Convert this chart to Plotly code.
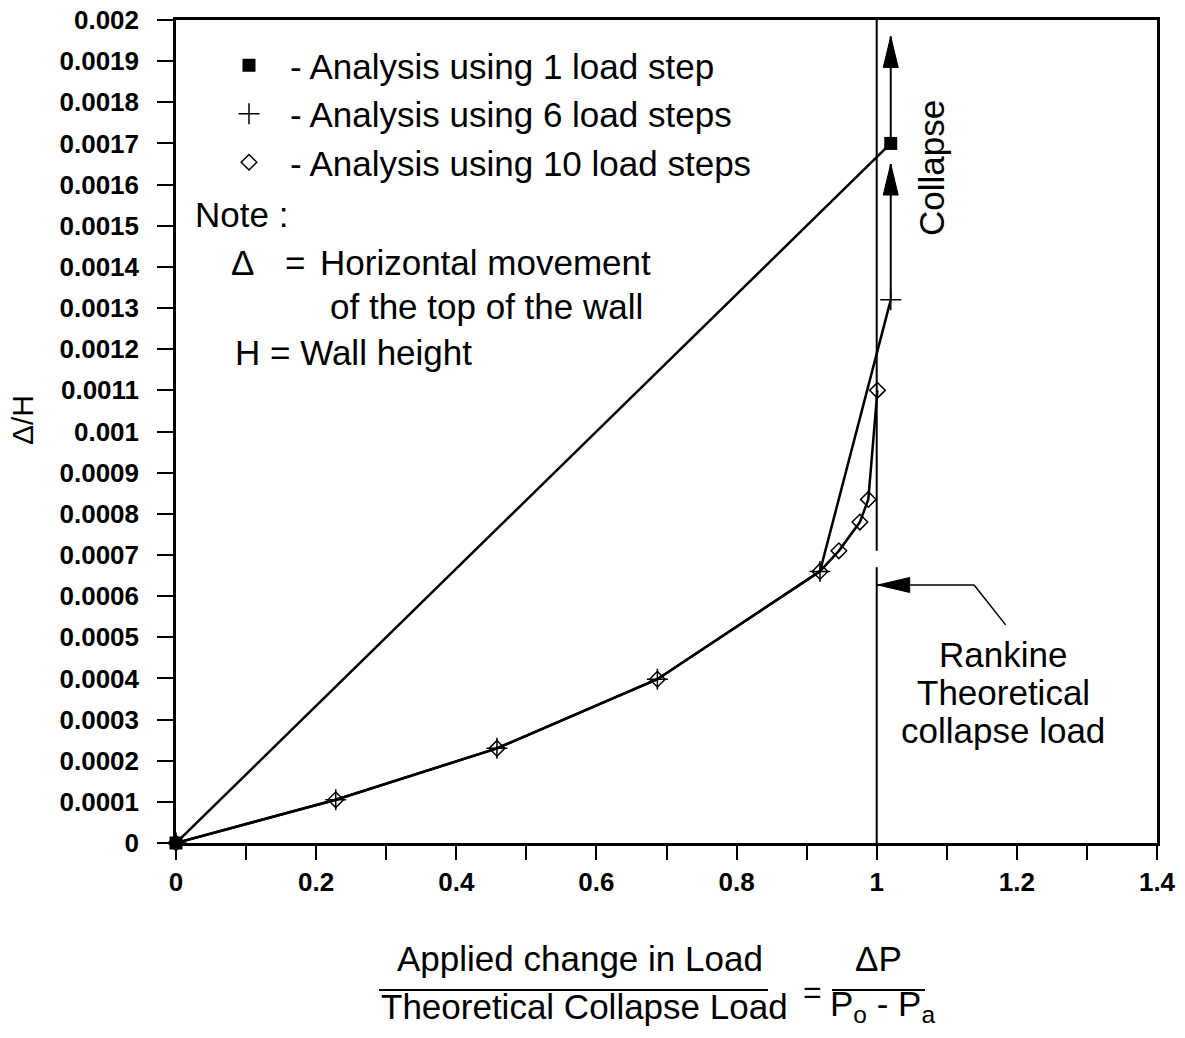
import plotly.graph_objects as go

# ---------------- data ----------------
x_1step = [0, 1.02]
y_1step = [0, 0.0017]

x_6step = [0, 0.228, 0.458, 0.687, 0.919, 1.02]
y_6step = [0, 0.000105, 0.00023, 0.000398, 0.00066, 0.00132]

x_10step = [0, 0.228, 0.458, 0.687, 0.919, 0.946, 0.976, 0.988, 1.001]
y_10step = [0, 0.000105, 0.00023, 0.000398, 0.00066, 0.00071, 0.00078, 0.000835, 0.0011]

series_names = ["- Analysis using 1 load step",
                "- Analysis using 6 load steps",
                "- Analysis using 10 load steps"]

x_tick_vals = [0, 0.2, 0.4, 0.6, 0.8, 1.0, 1.2, 1.4]
x_tick_text = ["0", "0.2", "0.4", "0.6", "0.8", "1", "1.2", "1.4"]
y_tick_vals = [i / 10000 for i in range(0, 21)]
y_tick_text = ["0", "0.0001", "0.0002", "0.0003", "0.0004", "0.0005", "0.0006",
               "0.0007", "0.0008", "0.0009", "0.001", "0.0011", "0.0012", "0.0013",
               "0.0014", "0.0015", "0.0016", "0.0017", "0.0018", "0.0019", "0.002"]

# Rankine theoretical collapse line (x = 1) drawn in two segments (gap around pointer)
rankine_x = 1.0
rankine_segments = [(0, 0.00067), (0.00071, 0.002)]
rankine_pointer_x = [1.0, 1.139, 1.184]
rankine_pointer_y = [0.000627, 0.000627, 0.00053]

# collapse arrows: (x, y_start, y_tip)
collapse_arrows = [(1.02, 0.00132, 0.00165), (1.02, 0.0017, 0.00196)]

# ---------------- layout geometry ----------------
W, H = 1185, 1038
ML, MR, MT, MB = 176, 28, 20, 195
PW, PH = W - ML - MR, H - MT - MB

def px(x):
    return (x - ML) / PW

def py(y):
    return (H - MB - y) / PH

FONT = "Liberation Sans, Arial, Helvetica, sans-serif"
TXT = 35

fig = go.Figure()

line_style = dict(color="black", width=2.5)
fig.add_trace(go.Scatter(x=x_1step, y=y_1step, mode="lines+markers", line=line_style,
                         marker=dict(symbol="square", size=13, color="black"),
                         cliponaxis=False, showlegend=False))
fig.add_trace(go.Scatter(x=x_6step, y=y_6step, mode="lines+markers", line=line_style,
                         marker=dict(symbol="cross-thin", size=15,
                                     line=dict(color="black", width=1.5)),
                         cliponaxis=False, showlegend=False))
fig.add_trace(go.Scatter(x=x_10step, y=y_10step, mode="lines+markers", line=line_style,
                         marker=dict(symbol="diamond-open", size=12, color="black",
                                     line=dict(color="black", width=1.5)),
                         cliponaxis=False, showlegend=False))

# legend-only entries (marker symbols only)
legend_markers = [dict(symbol="square", size=13, color="black"),
                  dict(symbol="cross-thin", size=15, line=dict(color="black", width=1.5)),
                  dict(symbol="diamond-open", size=12, color="black",
                       line=dict(color="black", width=1.5))]
for name, mk in zip(series_names, legend_markers):
    fig.add_trace(go.Scatter(x=[None], y=[None], mode="markers", marker=mk, name=name,
                             showlegend=True))

shapes = []
for (y0, y1) in rankine_segments:
    shapes.append(dict(type="line", xref="x", yref="y", x0=rankine_x, x1=rankine_x,
                       y0=y0, y1=y1, line=dict(color="black", width=2)))
for i in range(len(rankine_pointer_x) - 1):
    shapes.append(dict(type="line", xref="x", yref="y",
                       x0=rankine_pointer_x[i], x1=rankine_pointer_x[i + 1],
                       y0=rankine_pointer_y[i], y1=rankine_pointer_y[i + 1],
                       line=dict(color="black", width=1.5)))
shapes.append(dict(type="path", xref="x", yref="y", xsizemode="pixel", ysizemode="pixel",
                   xanchor=rankine_pointer_x[0], yanchor=rankine_pointer_y[0],
                   path="M1,0 L33,7.5 L33,-7.5 Z", fillcolor="black",
                   line=dict(color="black", width=1)))
for (ax, ys, yt) in collapse_arrows:
    shapes.append(dict(type="line", xref="x", yref="y", x0=ax, x1=ax, y0=ys, y1=yt,
                       line=dict(color="black", width=2)))
    shapes.append(dict(type="path", xref="x", yref="y", xsizemode="pixel", ysizemode="pixel",
                       xanchor=ax, yanchor=yt, path="M0,0 L-7.5,-31 L7.5,-31 Z",
                       fillcolor="black", line=dict(color="black", width=1)))

# x-title fraction bars
shapes.append(dict(type="line", xref="paper", yref="paper", x0=px(379), x1=px(768),
                   y0=py(990), y1=py(990), line=dict(color="black", width=2)))
shapes.append(dict(type="line", xref="paper", yref="paper", x0=px(832), x1=px(925),
                   y0=py(990), y1=py(990), line=dict(color="black", width=2)))

def ann(text, x, y, xanchor="center", size=TXT, angle=0):
    return dict(text=text, xref="paper", yref="paper", x=px(x), y=py(y),
                xanchor=xanchor, yanchor="middle", showarrow=False, textangle=angle,
                font=dict(family=FONT, size=size, color="black"))

annotations = [
    ann("Note :", 193, 214, "left"),
    ann("Δ", 242, 262),
    ann("=", 295, 262),
    ann("Horizontal movement", 318, 262, "left"),
    ann("of the top of the wall", 328, 306, "left"),
    ann("H = Wall height", 233, 352, "left"),
    ann("Collapse", 931, 168, angle=-90),
    ann("Rankine", 1003, 654),
    ann("Theoretical", 1003, 692),
    ann("collapse load", 1003, 730),
    ann("Applied change in Load", 580, 958),
    ann("Theoretical Collapse Load", 584, 1006),
    ann("=", 812, 992, size=32),
    ann("ΔP", 878, 958),
    ann("P<sub>o</sub> - P<sub>a</sub>", 882, 1006),
    ann("Δ/H", 22, 420, size=30, angle=-90),
]

fig.update_layout(
    width=W, height=H,
    margin=dict(l=ML, r=MR, t=MT, b=MB, autoexpand=False),
    paper_bgcolor="white", plot_bgcolor="white",
    font=dict(family=FONT, color="black"),
    shapes=shapes, annotations=annotations,
    showlegend=True,
    legend=dict(x=px(208), y=py(36), xanchor="left", yanchor="top",
                bgcolor="rgba(0,0,0,0)", font=dict(family=FONT, size=TXT, color="black"),
                itemwidth=72, tracegroupgap=0),
    xaxis=dict(range=[0, 1.4], showgrid=False, zeroline=False, showline=True,
               automargin=False,
               linecolor="black", linewidth=2.5, mirror=True,
               tickvals=x_tick_vals, ticktext=x_tick_text,
               ticks="outside", ticklen=14, tickwidth=2, tickcolor="black",
               tickfont=dict(family=FONT, size=26, color="black", weight="bold"),
               minor=dict(dtick=0.1, tick0=0, ticks="outside", ticklen=14, tickwidth=2,
                          tickcolor="black", showgrid=False)),
    yaxis=dict(range=[0, 0.002], showgrid=False, zeroline=False, showline=True,
               automargin=False,
               linecolor="black", linewidth=2.5, mirror=True,
               tickvals=y_tick_vals, ticktext=y_tick_text,
               ticks="outside", ticklen=16, tickwidth=2, tickcolor="black",
               ticklabelstandoff=13,
               tickfont=dict(family=FONT, size=26, color="black", weight="bold")),
)

fig.write_html("out.html")
